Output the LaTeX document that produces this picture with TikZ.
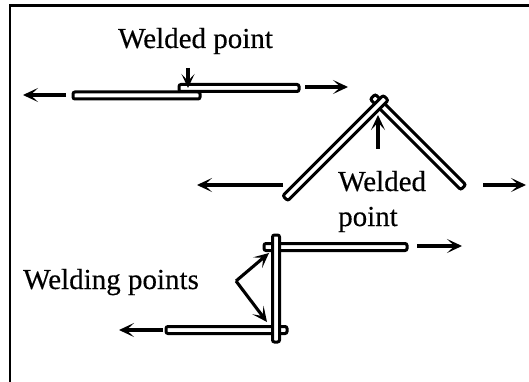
\documentclass[tikz,border=0pt]{standalone}
\usepackage{fontspec}
\setmainfont[FakeBold=0.35]{Liberation Serif}
\usetikzlibrary{arrows.meta}
\tikzset{
  x=1pt,y=-1pt,
  bar/.style={draw=black,fill=white,line width=3pt,rounded corners=2pt,inner sep=0pt,outer sep=0pt},
  pull/.style={line width=3.1pt,black,-{Stealth[length=15pt,width=14pt,inset=7.5pt]}},
  frameline/.style={line width=2.6pt,black},
  lab/.style={font=\fontsize{29}{29}\selectfont,text=black,inner sep=0pt,anchor=base west}
}
\begin{document}
\begin{tikzpicture}
\useasboundingbox (0,0) rectangle (529,382);
% frame
\coordinate (fa) at (10,382); \coordinate (fb) at (10,5.5); \coordinate (fc) at (529,5.5);
\draw[frameline] (fa) -- (fb) -- (fc);
% labels
\node[lab] (l1) at (118,48) {Welded point};
\node[lab] (l2) at (338,191) {Welded};
\node[lab] (l3) at (338,226) {point};
\node[lab] (l4) at (23,289) {Welding points};
% top pair
\node[bar,minimum width=120pt,minimum height=7pt] (b2) at (239,88) {};
\node[bar,minimum width=127pt,minimum height=7pt] (b1) at (136.5,95.5) {};
\coordinate (a1s) at (66,95); \coordinate (a1e) at (23,95);
\coordinate (a2s) at (305,87); \coordinate (a2e) at (348,87);
\coordinate (a3s) at (188,68); \coordinate (a3e) at (188,88);
\draw[pull] (a1s) -- (a1e);
\draw[pull] (a2s) -- (a2e);
\draw[pull,-{Stealth[length=14pt,width=13pt,inset=7pt]}] (a3s) -- (a3e);
% crossed pair
\node[bar,minimum width=128pt,minimum height=7pt,rotate=-45] (b4) at (418,142) {};
\node[bar,minimum width=142pt,minimum height=7pt,rotate=45] (b3) at (335.5,148) {};
\coordinate (a4s) at (283,185); \coordinate (a4e) at (197,185);
\coordinate (a5s) at (483,185); \coordinate (a5e) at (526,185);
\coordinate (a6s) at (378,149); \coordinate (a6e) at (378,115);
\draw[pull] (a4s) -- (a4e);
\draw[pull] (a5s) -- (a5e);
\draw[pull] (a6s) -- (a6e);
% bracket trio
\node[bar,minimum width=143pt,minimum height=7pt] (b5) at (335.5,247) {};
\node[bar,minimum width=121pt,minimum height=7pt] (b6) at (226.5,330) {};
\node[bar,minimum width=7pt,minimum height=107pt] (b7) at (276,288.5) {};
\coordinate (a7s) at (417,246); \coordinate (a7e) at (462,246);
\coordinate (a8s) at (163,330); \coordinate (a8e) at (119,330);
\coordinate (w) at (236,281); \coordinate (w1) at (269,253); \coordinate (w2) at (267,322);
\draw[pull] (a7s) -- (a7e);
\draw[pull] (a8s) -- (a8e);
\draw[pull] (w) -- (w1);
\draw[pull] (w) -- (w2);
\end{tikzpicture}
\end{document}
